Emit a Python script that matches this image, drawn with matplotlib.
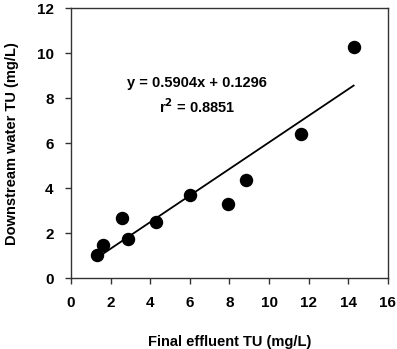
import matplotlib
matplotlib.use("Agg")
import matplotlib.pyplot as plt
import numpy as np

# final effluent TU vs downstream water TU (mg/L)
effluent_tu = [1.30, 1.63, 2.56, 2.88, 4.29, 6.03, 7.95, 8.83, 11.62, 14.27]
downstream_tu = [1.01, 1.49, 2.69, 1.72, 2.51, 3.70, 3.28, 4.34, 6.39, 10.29]

slope = 0.5904
intercept = 0.1296
r_squared = 0.8851

x_ticks = [0, 2, 4, 6, 8, 10, 12, 14, 16]
y_ticks = [0, 2, 4, 6, 8, 10, 12]

plt.rcParams["font.family"] = ["Liberation Sans", "DejaVu Sans"]
plt.rcParams["font.weight"] = "bold"

fig = plt.figure(figsize=(3.97, 3.49), dpi=100)
ax = fig.add_axes([0.179, 0.203, 0.798, 0.774])

ax.scatter(effluent_tu, downstream_tu, s=75, color="black", zorder=3)

fit_x = np.array([min(effluent_tu), max(effluent_tu)])
ax.plot(fit_x, slope * fit_x + intercept, color="black", linewidth=1.3)

ax.set_xlim(0, 16)
ax.set_ylim(0, 12)
ax.set_xticks(x_ticks)
ax.set_yticks(y_ticks)
ax.tick_params(direction="out", length=4, width=1, labelsize=11, pad=8.5,
               color="#333333")
ax.tick_params(top=False, right=False)
for lab in ax.get_xticklabels() + ax.get_yticklabels():
    lab.set_fontweight("bold")
for sp in ax.spines.values():
    sp.set_linewidth(1)
    sp.set_color("#333333")

ax.set_xlabel("Final effluent TU (mg/L)", fontsize=10.5, fontweight="bold", labelpad=18)
ax.set_ylabel("Downstream water TU (mg/L)", fontsize=10.5, fontweight="bold", labelpad=13)

ax.text(6.35, 8.69, f"y = {slope}x + {intercept}", ha="center", va="center",
        fontsize=10.5, fontweight="bold")
ax.text(6.35, 7.62, f"r$^{{2}}$ = {r_squared}", ha="center", va="center",
        fontsize=10.5, fontweight="bold")

fig.savefig("out.png", dpi=100)
